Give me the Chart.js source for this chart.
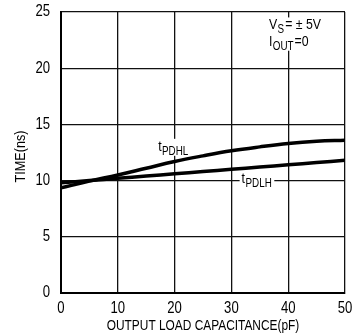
<!DOCTYPE html>
<html>
<head>
<meta charset="utf-8">
<script src="https://cdn.jsdelivr.net/npm/chart.js@4/dist/chart.umd.min.js"></script>
<style>
  html, body { margin: 0; background: #fff; }
</style>
</head>
<body>
<canvas id="chart" width="364" height="334"></canvas>
<script>
// Data
const capacitance = [0, 5, 10, 15, 20, 25, 30, 35, 40, 45, 50]; // pF
const tPDHL = [9.35, 9.95, 10.5, 11.1, 11.7, 12.2, 12.65, 13.0, 13.3, 13.5, 13.6]; // ns
const tPDLH = [9.8, 10.0, 10.2, 10.4, 10.6, 10.8, 11.0, 11.2, 11.4, 11.6, 11.8]; // ns
const xTicks = [0, 10, 20, 30, 40, 50];
const yTicks = [0, 5, 10, 15, 20, 25];
const xTitle = "OUTPUT LOAD CAPACITANCE(pF)";
const yTitle = "TIME(ns)";

const FONT = '"Liberation Sans", Arial, sans-serif';
const NARROW = 0.82; // fake the condensed face of the original

// labels placed in data units
const notes = [
  { x: 17.1, y: 12.65, main: "t", sub: "PDHL", rest: "" },
  { x: 31.8, y: 9.75, main: "t", sub: "PDLH", rest: "" },
  { x: 36.6, y: 23.45, main: "V", sub: "S", rest: "= \u00b1 5V" },
  { x: 36.6, y: 22.0, main: "I", sub: "OUT", rest: "=0" }
];

// text squeezed horizontally
function narrowText(ctx, text, x, y, size, align, squeeze) {
  const k = squeeze || NARROW;
  ctx.save();
  ctx.font = size + "px " + FONT;
  ctx.textAlign = align || "left";
  ctx.translate(x, y);
  ctx.scale(k, 1);
  ctx.fillText(text, 0, 0);
  ctx.restore();
}

function textWidth(ctx, text, size) {
  ctx.save();
  ctx.font = size + "px " + FONT;
  const w = ctx.measureText(text).width * NARROW;
  ctx.restore();
  return w;
}

// tick labels, axis titles and curve labels
const textPlugin = {
  id: "texts",
  afterDraw(chart) {
    const ctx = chart.ctx;
    const xs = chart.scales.x, ys = chart.scales.y;
    const area = chart.chartArea;
    ctx.save();
    ctx.fillStyle = "#000";

    ctx.textBaseline = "middle";
    yTicks.forEach(v => narrowText(ctx, String(v), area.left - 11, ys.getPixelForValue(v), 16, "right"));

    ctx.textBaseline = "alphabetic";
    xTicks.forEach(v => narrowText(ctx, String(v), xs.getPixelForValue(v), area.bottom + 20, 16, "center"));
    narrowText(ctx, xTitle, (area.left + area.right) / 2, area.bottom + 37, 14.5, "center");

    ctx.save();
    ctx.translate(25, (area.top + area.bottom) / 2 + 4);
    ctx.rotate(-Math.PI / 2);
    narrowText(ctx, yTitle, 0, 0, 14, "center", 0.9);
    ctx.restore();

    notes.forEach(n => {
      const px = xs.getPixelForValue(n.x);
      const py = ys.getPixelForValue(n.y);
      const w1 = textWidth(ctx, n.main, 15);
      const w2 = textWidth(ctx, n.sub, 12);
      const w3 = textWidth(ctx, n.rest, 15);
      ctx.fillStyle = "#fff";
      ctx.fillRect(px - 2, py - 12, w1 + w2 + w3 + 5, 17);
      ctx.fillStyle = "#000";
      narrowText(ctx, n.main, px, py, 15, "left");
      narrowText(ctx, n.sub, px + w1 + 0.5, py + 4, 12, "left");
      narrowText(ctx, n.rest, px + w1 + w2 + 1.5, py, 15, "left");
    });
    ctx.restore();
  }
};

const ctx = document.getElementById("chart").getContext("2d");
new Chart(ctx, {
  type: "line",
  data: {
    datasets: [
      {
        label: "tPDHL",
        data: capacitance.map((c, i) => ({ x: c, y: tPDHL[i] })),
        borderColor: "#000",
        borderWidth: 3.5,
        pointRadius: 0,
        tension: 0.4,
        fill: false
      },
      {
        label: "tPDLH",
        data: capacitance.map((c, i) => ({ x: c, y: tPDLH[i] })),
        borderColor: "#000",
        borderWidth: 3.5,
        pointRadius: 0,
        tension: 0.4,
        fill: false
      }
    ]
  },
  options: {
    responsive: false,
    animation: false,
    layout: { padding: { left: 0, top: 12, right: 19, bottom: 3 } },
    plugins: { legend: { display: false }, tooltip: { enabled: false } },
    scales: {
      x: {
        type: "linear",
        min: 0,
        max: 50,
        afterBuildTicks: s => { s.ticks = xTicks.map(v => ({ value: v })); },
        afterFit: s => { s.height = 38; },
        grid: { color: "#111", lineWidth: 1.3, drawTicks: false },
        border: { color: "#000", width: 2 },
        ticks: { display: false }
      },
      y: {
        min: 0,
        max: 25,
        afterBuildTicks: s => { s.ticks = yTicks.map(v => ({ value: v })); },
        afterFit: s => { s.width = 61; },
        grid: { color: "#111", lineWidth: 1.3, drawTicks: false },
        border: { color: "#000", width: 2 },
        ticks: { display: false }
      }
    }
  },
  plugins: [textPlugin]
});
</script>
</body>
</html>
